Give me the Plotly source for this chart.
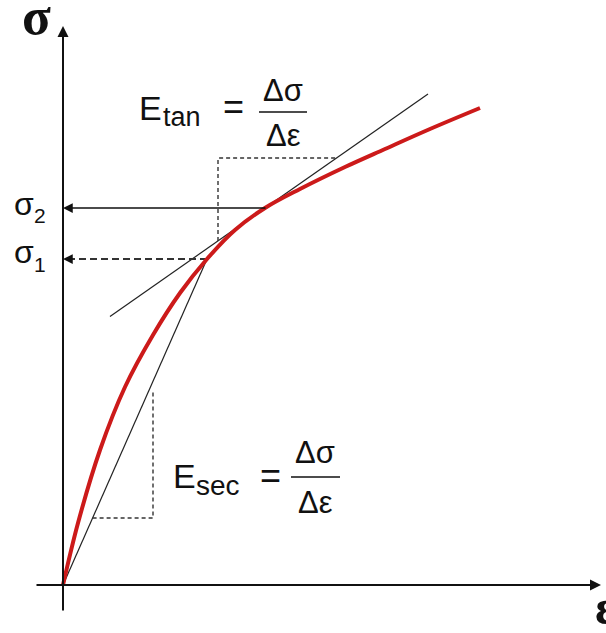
import plotly.graph_objects as go

# Stress-strain curve (schematic units: strain ε, stress σ)
strain = [0.0, 0.15, 0.37, 0.62, 0.90, 1.17, 1.44, 1.72, 2.02, 2.37, 2.82, 3.22, 3.67, 4.17]
stress = [0.0, 0.62, 1.35, 1.98, 2.50, 2.92, 3.26, 3.55, 3.77, 3.96, 4.18, 4.36, 4.56, 4.77]

# Reference points on the curve
eps1, sigma1 = 1.44, 3.26   # secant point (σ1)
eps2, sigma2 = 2.02, 3.77   # tangent point (σ2)
E_tan = 0.70                # slope of tangent at σ2
E_sec = sigma1 / eps1       # slope of secant through origin

tan_span = [0.47, 3.65]          # strain extent of tangent line
tan_box = [1.55, 4.27]           # corner (ε, σ) of tangent slope triangle
sec_box = [0.67, 0.90, 1.93]     # σ base, ε right edge, σ top of secant triangle

X_RANGE = [-0.63, 5.43]
Y_RANGE = [-0.48, 5.85]

fig = go.Figure()

# tangent line
tan_y = [sigma2 + E_tan * (e - eps2) for e in tan_span]
fig.add_trace(go.Scatter(x=tan_span, y=tan_y, mode="lines",
                         line=dict(color="#222222", width=1.2), hoverinfo="skip"))
# secant line
fig.add_trace(go.Scatter(x=[0, eps1], y=[0, sigma1], mode="lines",
                         line=dict(color="#222222", width=1.2), hoverinfo="skip"))

# tangent slope triangle (dashed)
tb_e, tb_s = tan_box
tb_low = sigma2 + E_tan * (tb_e - eps2)
tb_right = eps2 + (tb_s - sigma2) / E_tan
fig.add_trace(go.Scatter(x=[tb_e, tb_e, tb_right], y=[tb_low, tb_s, tb_s], mode="lines",
                         line=dict(color="#333333", width=1.4, dash="4px,3px"), hoverinfo="skip"))

# secant slope triangle (dashed)
sb_s, sb_e, sb_top = sec_box
fig.add_trace(go.Scatter(x=[sb_s / E_sec, sb_e, sb_e], y=[sb_s, sb_s, sb_top], mode="lines",
                         line=dict(color="#333333", width=1.4, dash="4px,3px"), hoverinfo="skip"))

# σ1 projection (dashed)
fig.add_trace(go.Scatter(x=[eps1, 0.08], y=[sigma1, sigma1], mode="lines",
                         line=dict(color="#333333", width=1.8, dash="7px,4px"), hoverinfo="skip"))

# stress-strain curve
fig.add_trace(go.Scatter(x=strain, y=stress, mode="lines",
                         line=dict(color="#cc1a1a", width=4, shape="spline", smoothing=1.0),
                         hoverinfo="skip"))

arrows = [
    # axes
    dict(x=5.38, y=0, ax=-0.28, ay=0, w=2),
    dict(x=0, y=5.59, ax=0, ay=-0.27, w=2),
    # σ2 projection
    dict(x=0, y=sigma2, ax=eps2 + 0.02, ay=sigma2, w=1.5),
    # σ1 arrowhead
    dict(x=0, y=sigma1, ax=0.09, ay=sigma1, w=1.5),
]
for a in arrows:
    fig.add_annotation(x=a["x"], y=a["y"], ax=a["ax"], ay=a["ay"], xref="x", yref="y",
                       axref="x", ayref="y", text="", showarrow=True, arrowhead=2,
                       arrowsize=1.3 if a["w"] < 2 else 1.1, arrowwidth=a["w"],
                       arrowcolor="#111111", standoff=0)

W, H = 606, 633


def px(x, y):
    return x / W, 1 - y / H


sans = "Liberation Sans, Arial, sans-serif"
serif = "Liberation Serif, Times New Roman, serif"

# (text, x, y, family, size, xanchor)
texts = [
    ("<b>σ</b>", 20, 16, serif, 53, "left"),
    ("<b>ε</b>", 593, 607, serif, 50, "left"),
    ("σ", 12, 204, sans, 32, "left"),
    ("2", 32, 216, sans, 21, "left"),
    ("σ", 12, 252, sans, 32, "left"),
    ("1", 32, 264, sans, 21, "left"),
    # tangent modulus
    ("E", 137, 108, sans, 34, "left"),
    ("tan", 161, 117, sans, 27, "left"),
    ("=", 233, 107, sans, 36, "center"),
    ("Δσ", 283, 90, sans, 31, "center"),
    ("Δε", 283, 135, sans, 31, "center"),
    # secant modulus
    ("E", 171, 476, sans, 34, "left"),
    ("sec", 194, 485, sans, 28, "left"),
    ("=", 270, 475, sans, 36, "center"),
    ("Δσ", 315, 452, sans, 31, "center"),
    ("Δε", 315, 503, sans, 31, "center"),
]
for t, x, y, fam, size, anchor in texts:
    xp, yp = px(x, y)
    fig.add_annotation(x=xp, y=yp, xref="paper", yref="paper", text=t, showarrow=False,
                       xanchor=anchor, yanchor="middle",
                       font=dict(family=fam, size=size, color="#111111"))

# fraction bars
for x0, x1, y in [(259, 307, 112), (291, 340, 477)]:
    a0, b = px(x0, y)
    a1, _ = px(x1, y)
    fig.add_shape(type="line", xref="paper", yref="paper", x0=a0, x1=a1, y0=b, y1=b,
                  line=dict(color="#111111", width=1.6))

fig.update_layout(
    width=W, height=H, margin=dict(l=0, r=0, t=0, b=0),
    paper_bgcolor="white", plot_bgcolor="white", showlegend=False,
    xaxis=dict(range=X_RANGE, visible=False, fixedrange=True),
    yaxis=dict(range=Y_RANGE, visible=False, fixedrange=True),
)

fig.write_html("out.html")
